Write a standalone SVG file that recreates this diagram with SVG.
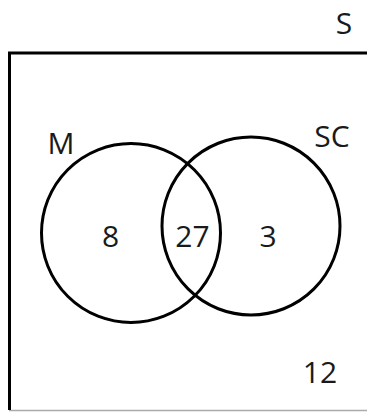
<svg xmlns="http://www.w3.org/2000/svg" width="367" height="412" viewBox="0 0 367 412">
<style>
.t{font-family:"Open Sans","Liberation Sans",Arial,sans-serif;font-size:30px;fill:#1a1a1a;text-anchor:middle}
.c{fill:none;stroke:#000;stroke-width:3}
</style>
<rect width="367" height="412" fill="#fff"/>
<g id="universe">
<line x1="367" y1="410.5" x2="9" y2="410.5" stroke="#aaa" stroke-width="1.5"/>
<polyline points="9.5,410 9.5,53 367,53" fill="none" stroke="#000" stroke-width="3"/>
<text class="t" x="344" y="34">S</text>
<text class="t" x="320" y="383">12</text>
</g>
<g id="M">
<circle class="c" cx="131" cy="233" r="89.5"/>
<text class="t" x="61" y="154">M</text>
<text class="t" x="110.5" y="247">8</text>
</g>
<g id="SC">
<circle class="c" cx="251" cy="226" r="89"/>
<text class="t" x="332" y="147">SC</text>
<text class="t" x="268" y="247">3</text>
</g>
<g id="intersection">
<text class="t" x="192.5" y="247">27</text>
</g>
</svg>
